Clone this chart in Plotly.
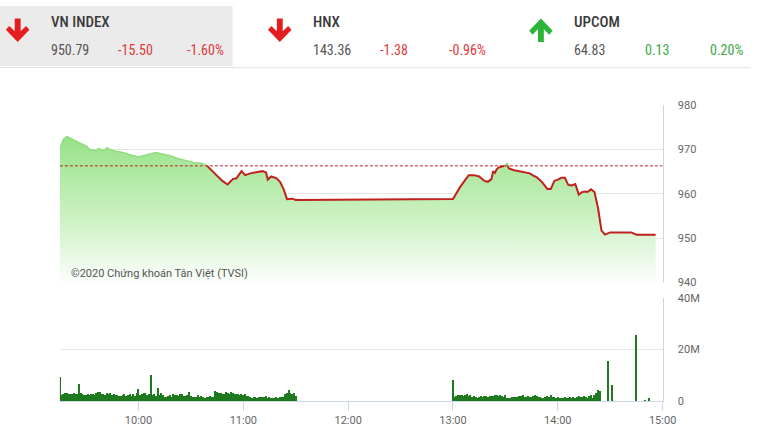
import numpy as np
import pandas as pd
import plotly.graph_objects as go

W, H = 765, 441
DATE = "2020-03-05 "

# ---------------- data ----------------
REF = 966.29  # previous close (950.79 + 15.50)

price_times = ["09:15", "09:17", "09:19", "09:22", "09:24", "09:26", "09:28", "09:30", "09:32", "09:34",
               "09:36", "09:37", "09:40", "09:42", "09:44", "09:47", "09:51", "09:54", "09:56", "10:00",
               "10:04", "10:07", "10:10", "10:13", "10:15", "10:18", "10:22", "10:26", "10:29", "10:32",
               "10:36", "10:39", "10:44", "10:48", "10:51", "10:54", "10:56", "10:59", "11:01", "11:04",
               "11:08", "11:11", "11:13", "11:14", "11:16", "11:19", "11:21", "11:23", "11:25", "11:28",
               "11:30", "13:00", "13:04", "13:07", "13:09", "13:12", "13:15", "13:18", "13:20", "13:22",
               "13:23", "13:24", "13:25", "13:26", "13:29", "13:31", "13:32", "13:35", "13:38", "13:40",
               "13:42", "13:44", "13:46", "13:48", "13:51", "13:54", "13:56", "13:58", "14:00", "14:02",
               "14:04", "14:06", "14:08", "14:10", "14:12", "14:14", "14:16", "14:17", "14:19", "14:21",
               "14:23", "14:25", "14:27", "14:30", "14:42", "14:45", "14:56"]
price_vals = [970.0, 972.3, 972.9, 972.2, 971.9, 971.5, 971.2, 970.8, 970.0, 969.9,
              969.7, 970.2, 969.7, 970.4, 969.9, 969.6, 969.3, 968.9, 968.7, 968.3,
              968.7, 969.0, 969.3, 969.0, 968.9, 968.6, 968.0, 967.5, 967.3, 967.0,
              966.9, 966.4, 964.4, 962.9, 962.1, 963.3, 963.5, 965.1, 964.2, 964.6,
              964.9, 965.1, 964.8, 963.2, 963.9, 963.5, 962.7, 961.1, 958.8, 958.9,
              958.6, 958.8, 961.5, 963.3, 964.2, 964.2, 963.9, 962.9, 962.7, 963.3,
              965.1, 964.7, 965.5, 965.9, 966.1, 966.8, 965.7, 965.3, 965.1, 964.9,
              964.9, 964.6, 964.1, 963.7, 962.6, 961.1, 961.1, 962.9, 963.2, 963.6,
              963.6, 962.0, 961.9, 962.2, 959.8, 960.4, 960.5, 960.4, 961.0, 960.4,
              956.8, 951.7, 950.8, 951.3, 951.3, 950.8, 950.79]

# volume (millions of shares), one bar per minute
vol_morning = [9.2,
               2.2, 2.8, 3.0, 2.9, 2.7, 2.8, 2.6, 2.9, 2.7, 2.8,
               6.5,
               2.9, 2.5, 2.3, 2.4, 2.6, 2.2, 2.5, 2.8, 2.3, 2.9, 3.4, 3.3, 2.5, 2.7,
               2.4, 3.1, 2.6, 3.2, 2.1, 2.8, 2.4, 2.2, 2.0, 1.9, 2.3, 2.7, 1.8, 2.2, 2.5, 1.9, 2.6, 2.0, 2.9,
               4.6,
               2.3, 2.8, 3.2, 3.0, 2.2, 2.5,
               10.0,
               2.4, 2.6, 2.0,
               5.1,
               2.3, 3.0, 2.1, 1.6, 1.5, 1.8, 2.3, 1.7, 2.6, 2.2, 2.4, 1.9, 2.5, 2.7, 2.0, 1.8, 2.2,
               3.6,
               1.8, 1.7, 1.4, 1.6, 2.2, 1.5, 1.9, 1.6, 1.3, 1.7, 1.5, 2.0, 1.4, 1.6,
               3.7, 3.4, 2.9, 3.1, 2.6, 2.8, 3.6, 3.0, 2.8, 3.3,
               2.9, 2.7, 2.5, 2.8, 2.4, 2.6, 2.2, 2.5, 2.0, 1.8,
               1.5, 1.2, 1.4, 1.5, 1.3, 1.6, 1.4, 1.5, 1.7, 1.8, 1.3, 1.5, 1.2, 1.1, 1.3, 1.4, 1.2, 1.6, 1.4, 1.7,
               2.6, 3.1, 4.1, 3.2, 2.8, 3.0, 2.0]
vol_afternoon = [8.2,
                 1.6, 1.9, 2.1, 2.3, 2.2, 1.8, 2.4, 2.6, 2.0, 2.2, 1.7, 1.9, 1.5, 1.1, 1.4, 1.8, 1.6, 1.9, 2.0, 1.7,
                 1.8, 2.0, 1.9, 2.3, 2.1, 2.0, 2.2, 1.8, 1.6, 2.1, 1.3, 1.1, 1.2, 1.5, 1.7, 1.6, 1.4, 1.9, 1.8, 2.2,
                 1.5, 1.7, 2.0, 1.4, 1.6, 1.8, 2.3, 1.9, 1.7, 1.4, 1.2, 1.3, 1.6, 1.8, 1.5, 2.1, 1.7, 1.4, 1.2, 1.5,
                 1.3, 1.2, 1.0, 1.4, 1.2, 1.1, 1.5, 1.3, 1.7, 1.2, 1.5, 1.8, 1.4, 1.6, 1.9, 1.5, 1.3, 1.8,
                 2.1, 1.3, 2.4, 3.1, 4.4, 3.8]
vol_late_times = ["14:29", "14:31", "14:45", "14:50", "14:52"]
vol_late = [15.5, 6.3, 25.5, 0.3, 1.0]

tick_times = ["10:00", "11:00", "12:00", "13:00", "14:00", "15:00"]
tick_labels = ["10:00", "11:00", "12:00", "13:00", "14:00", "15:00"]

header = [  # name, value, change, pct, up?
    ("VN INDEX", "950.79", "-15.50", "-1.60%", False),
    ("HNX", "143.36", "-1.38", "-0.96%", False),
    ("UPCOM", "64.83", "0.13", "0.20%", True),
]

# ---------------- helpers ----------------
def ts(s):
    return pd.Timestamp(DATE + s)


def px(x, y):
    return x / W, 1 - y / H


def mins_to_ts(m):
    return None if m is None else pd.Timestamp(DATE + "00:00") + pd.Timedelta(minutes=float(m))


# split line into above / below reference parts
mins = [int(t[:2]) * 60 + int(t[3:]) for t in price_times]
red_x, red_y, grn_x, grn_y = [], [], [], []
for i, y in enumerate(price_vals):
    below = y <= REF
    if i > 0:
        y0 = price_vals[i - 1]
        if (y0 <= REF) != below:
            m = mins[i - 1] + (REF - y0) / (y - y0) * (mins[i] - mins[i - 1])
            red_x.append(m); red_y.append(REF)
            grn_x.append(m); grn_y.append(REF)
            if below:
                grn_x.append(None); grn_y.append(None)
            else:
                red_x.append(None); red_y.append(None)
    if below:
        red_x.append(mins[i]); red_y.append(y)
    else:
        grn_x.append(mins[i]); grn_y.append(y)

red_x = [mins_to_ts(m) for m in red_x]
grn_x = [mins_to_ts(m) for m in grn_x]

x_left, x_right = 61, 675
xdom = [x_left / W, x_right / W]
price_dom = [1 - 285 / H, 1 - 102 / H]
vol_dom = [1 - 407 / H, 1 - 301 / H]
xrange = [ts("09:15"), ts("15:00")]

fig = go.Figure()

# price area
fig.add_trace(go.Scatter(
    x=[ts(t) for t in price_times], y=price_vals, mode="lines",
    line=dict(width=0, color="rgba(0,0,0,0)"),
    fill="tozeroy",
    fillgradient=dict(type="vertical", start=940, stop=973,
                      colorscale=[[0, "rgba(255,255,255,1)"], [0.5, "rgb(200,240,190)"], [1, "rgb(150,226,135)"]]),
    xaxis="x", yaxis="y", hoverinfo="skip", showlegend=False))
fig.add_trace(go.Scatter(x=grn_x, y=grn_y, mode="lines", line=dict(width=1.5, color="#8fdc7f"),
                         xaxis="x", yaxis="y", showlegend=False, connectgaps=False))
fig.add_trace(go.Scatter(x=red_x, y=red_y, mode="lines", line=dict(width=2, color="#c0211c"),
                         xaxis="x", yaxis="y", showlegend=False, connectgaps=False))

# volume
vx = list(pd.date_range(ts("09:15"), ts("11:30"), freq="min")) + \
     list(pd.date_range(ts("13:00"), ts("14:24"), freq="min")) + [ts(t) for t in vol_late_times]
vy = [v * 1e6 for v in vol_morning + vol_afternoon + vol_late]
fig.add_trace(go.Bar(x=vx, y=vy, width=50000, marker=dict(color="#1f7a1f", line=dict(width=0)),
                     xaxis="x2", yaxis="y2", showlegend=False))

axis_font = dict(family="Roboto, Arial, sans-serif", size=11, color="#666666")

fig.update_layout(
    width=W, height=H, margin=dict(l=0, r=0, t=0, b=0),
    paper_bgcolor="white", plot_bgcolor="white", showlegend=False, bargap=0,
    xaxis=dict(domain=xdom, anchor="y", type="date", range=xrange, showticklabels=False,
               showgrid=False, zeroline=False, showline=False, ticks=""),
    yaxis=dict(domain=price_dom, anchor="x", range=[940, 980], side="right",
               tickvals=[940, 950, 960, 970, 980], gridcolor="#e6e6e6", gridwidth=1,
               showline=True, linecolor="#ccd6eb", linewidth=1, zeroline=False, ticks="",
               tickfont=axis_font, ticklabelstandoff=12),
    xaxis2=dict(domain=xdom, anchor="y2", type="date", range=xrange,
                tickvals=[ts(t) for t in tick_times], ticktext=tick_labels,
                showgrid=False, zeroline=False, showline=True, linecolor="#ccd6eb", linewidth=1,
                ticks="outside", ticklen=9, tickcolor="#ccd6eb", tickwidth=1, tickfont=axis_font),
    yaxis2=dict(domain=vol_dom, anchor="x2", range=[0, 40e6], side="right",
                tickvals=[0, 20e6, 40e6], ticktext=["0", "20M", "40M"], gridcolor="#e6e6e6",
                showline=True, linecolor="#ccd6eb", linewidth=1, zeroline=False, ticks="",
                tickfont=axis_font, ticklabelstandoff=12),
)

shapes = []
# header background
x0, y0 = px(0, 0); x1, y1 = px(237, 62)
shapes.append(dict(type="rect", xref="paper", yref="paper", x0=x0, y0=y1, x1=x1, y1=y0,
                   fillcolor="#ebebeb", line=dict(width=0), layer="below"))
a, b = px(0, 63.5); c, d = px(765, 63.5)
shapes.append(dict(type="line", xref="paper", yref="paper", x0=a, y0=b, x1=c, y1=d,
                   line=dict(color="#e3e3e3", width=1)))

# reference dashed line
shapes.append(dict(type="line", xref="x", yref="y", x0=ts("09:15"), x1=ts("15:00"), y0=REF, y1=REF,
                   line=dict(color="#b3261e", width=1, dash="3px,2px")))


def arrow_path(cx, top, up):
    pts = [(-3, 0), (3, 0), (3, 13), (8.5, 7.5), (12, 11.5), (0, 24), (-12, 11.5), (-8.5, 7.5), (-3, 13)]
    out = []
    for (dx, dy) in pts:
        yy = top + (24 - dy if up else dy)
        X, Y = px(cx + dx, yy)
        out.append(f"{X:.5f},{Y:.5f}")
    return "M" + " L".join(out) + " Z"


annotations = []
name_x = [50, 317, 583]
for k, (name, val, chg, pct, up) in enumerate(header):
    nx = name_x[k]
    col = "#2db53a" if up else "#e41e1e"
    shapes.append(dict(type="path", xref="paper", yref="paper", path=arrow_path(nx - 32, 13, up),
                       fillcolor=col, line=dict(width=0)))
    X, Y = px(nx, 17)
    annotations.append(dict(xref="paper", yref="paper", x=X, y=Y, xanchor="left", yanchor="middle",
                            text=name, showarrow=False,
                            font=dict(family="Roboto Condensed, Liberation Sans Narrow, Roboto", size=15,
                                      color="#3a3a3a", weight=500)))
    txtcol = "#3aa845" if up else "#e0383a"
    for off, t, c in [(0, val, "#555555"), (68 if k < 2 else 72, chg, txtcol), (138, pct, txtcol)]:
        X, Y = px(nx + off, 45)
        annotations.append(dict(xref="paper", yref="paper", x=X, y=Y, xanchor="left", yanchor="middle",
                                text=t, showarrow=False,
                                font=dict(family="Roboto Condensed, Liberation Sans Narrow, Roboto",
                                          size=14, color=c)))

X, Y = px(70, 276)
annotations.append(dict(xref="paper", yref="paper", x=X, y=Y, xanchor="left", yanchor="middle",
                        text="©2020 Chứng khoán Tân Việt (TVSI)", showarrow=False,
                        font=dict(family="Roboto, Arial, sans-serif", size=11, color="#555555")))

fig.update_layout(shapes=shapes, annotations=annotations)
fig.write_html("out.html", config={"displayModeBar": False},
               post_script="document.body.style.margin='0';document.body.style.overflow='hidden';")
